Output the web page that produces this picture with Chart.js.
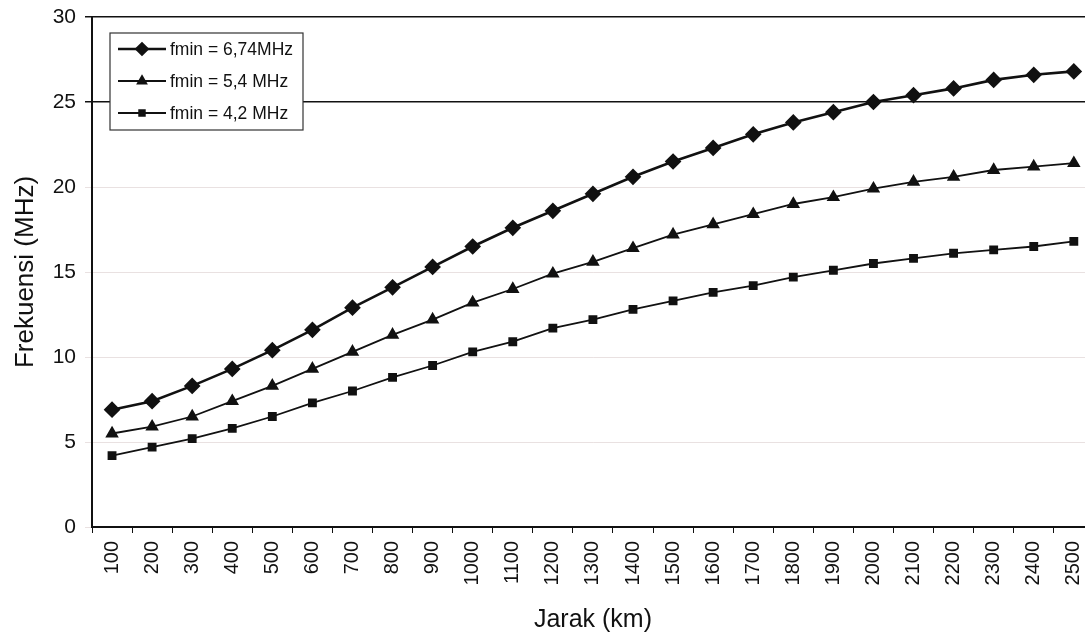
<!DOCTYPE html>
<html>
<head>
<meta charset="utf-8">
<script src="https://cdn.jsdelivr.net/npm/chart.js@4/dist/chart.umd.min.js"></script>
<style>
  html, body { margin: 0; padding: 0; background: #fff; overflow: hidden; }
  #wrap { width: 1085px; height: 639px; overflow: hidden; }
</style>
</head>
<body>
<!-- the plot area of the original runs past the right edge of the picture -->
<div id="wrap"><canvas id="chart" width="1106" height="639"></canvas></div>
<script>
// jarak (km)
const categories = ['100','200','300','400','500','600','700','800','900','1000','1100','1200','1300',
  '1400','1500','1600','1700','1800','1900','2000','2100','2200','2300','2400','2500'];

const fmin674 = [6.9, 7.4, 8.3, 9.3, 10.4, 11.6, 12.9, 14.1, 15.3, 16.5, 17.6, 18.6, 19.6,
  20.6, 21.5, 22.3, 23.1, 23.8, 24.4, 25.0, 25.4, 25.8, 26.3, 26.6, 26.8];
const fmin54 = [5.5, 5.9, 6.5, 7.4, 8.3, 9.3, 10.3, 11.3, 12.2, 13.2, 14.0, 14.9, 15.6,
  16.4, 17.2, 17.8, 18.4, 19.0, 19.4, 19.9, 20.3, 20.6, 21.0, 21.2, 21.4];
const fmin42 = [4.2, 4.7, 5.2, 5.8, 6.5, 7.3, 8.0, 8.8, 9.5, 10.3, 10.9, 11.7, 12.2,
  12.8, 13.3, 13.8, 14.2, 14.7, 15.1, 15.5, 15.8, 16.1, 16.3, 16.5, 16.8];

const yTicks = [0, 5, 10, 15, 20, 25, 30];
const seriesLabels = ['fmin = 6,74MHz', 'fmin = 5,4 MHz', 'fmin = 4,2 MHz'];

const FONT = 'Liberation Sans, Arial, sans-serif';

// legend drawn inside the plot, top-left, like the original
const boxLegend = {
  id: 'boxLegend',
  afterDraw(chart) {
    const ctx = chart.ctx;
    const x0 = 110, y0 = 33, w = 193, h = 97;
    ctx.save();
    ctx.fillStyle = '#fff';
    ctx.fillRect(x0, y0, w, h);
    ctx.strokeStyle = '#333';
    ctx.lineWidth = 1.2;
    ctx.strokeRect(x0, y0, w, h);
    chart.data.datasets.forEach((ds, i) => {
      const cy = y0 + 16 + i * 32;
      ctx.strokeStyle = ds.borderColor;
      ctx.lineWidth = ds.borderWidth;
      ctx.beginPath();
      ctx.moveTo(x0 + 8, cy);
      ctx.lineTo(x0 + 56, cy);
      ctx.stroke();
      ctx.fillStyle = '#111';
      Chart.helpers.drawPoint(ctx, {
        pointStyle: ds.pointStyle, radius: ds.pointRadius - 1, borderWidth: 1
      }, x0 + 32, cy);
      ctx.font = '17.5px ' + FONT;
      ctx.textBaseline = 'middle';
      ctx.fillText(ds.label, x0 + 60, cy + 1);
    });
    ctx.restore();
  }
};

function makeSet(label, data, style, radius, width) {
  return {
    label: label,
    data: data,
    borderColor: '#111',
    backgroundColor: '#111',
    pointBackgroundColor: '#111',
    pointBorderColor: '#111',
    borderWidth: width,
    pointStyle: style,
    pointRadius: radius,
    tension: 0
  };
}

new Chart(document.getElementById('chart').getContext('2d'), {
  type: 'line',
  data: {
    labels: categories,
    datasets: [
      makeSet(seriesLabels[0], fmin674, 'rectRot', 6.5, 2.6),
      makeSet(seriesLabels[1], fmin54, 'triangle', 6, 1.8),
      makeSet(seriesLabels[2], fmin42, 'rect', 5, 1.8)
    ]
  },
  options: {
    responsive: false,
    animation: false,
    layout: { padding: { top: 17, right: 0, left: 0, bottom: 0 } },
    plugins: { legend: { display: false }, tooltip: { enabled: false } },
    scales: {
      x: {
        offset: true,
        border: { display: true, color: '#111', width: 2 },
        grid: { offset: true, drawOnChartArea: false, drawTicks: true, tickLength: 6, color: '#111' },
        ticks: {
          color: '#111', minRotation: 90, maxRotation: 90, autoSkip: false, padding: 8,
          font: { family: FONT, size: 20 }
        },
        title: {
          display: true, text: 'Jarak (km)', color: '#111', padding: { top: 6 },
          font: { family: FONT, size: 25 }
        },
        afterFit: s => { s.height = 112; }
      },
      y: {
        min: 0, max: 30,
        afterBuildTicks: s => { s.ticks = yTicks.map(v => ({ value: v })); },
        border: { display: true, color: '#111', width: 2 },
        grid: {
          tickLength: 7,
          color: c => (c.tick && c.tick.value >= 25) ? '#111' : 'rgba(215,200,200,0.55)',
          lineWidth: c => (c.tick && c.tick.value >= 25) ? 1.5 : 1
        },
        ticks: {
          color: '#111', padding: 9,
          font: { family: FONT, size: 21 }
        },
        title: {
          display: true, text: 'Frekuensi (MHz)', color: '#111', padding: { top: 10, bottom: 4 },
          font: { family: FONT, size: 26 }
        },
        afterFit: s => { s.width = 92; s.paddingTop = 0; s.paddingBottom = 0; }
      }
    }
  },
  plugins: [boxLegend]
});
</script>
</body>
</html>
